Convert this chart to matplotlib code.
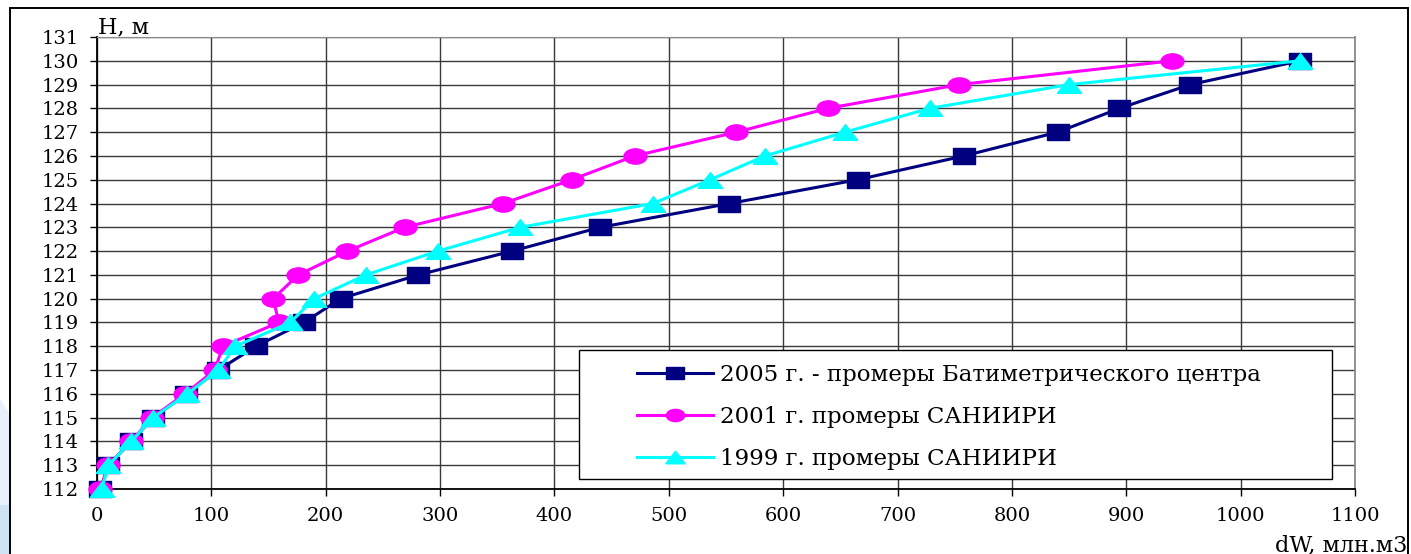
import matplotlib
matplotlib.use("Agg")
import matplotlib.pyplot as plt
from matplotlib.path import Path
from matplotlib.patches import Rectangle, Polygon
from matplotlib.transforms import Affine2D

# data
levels = list(range(112, 131))  # H, m
dw_2005 = [3, 10, 30, 49, 78, 106, 139, 181, 213, 281, 363, 440, 553, 665, 758, 840, 894, 956, 1052]
dw_2001 = [3, 10, 30, 48, 77, 103, 110, 159, 154, 176, 219, 269, 355, 415, 470, 559, 639, 754, 940]
dw_1999 = [4, 10, 30, 49, 79, 106, 121, 169, 190, 235, 298, 370, 486, 536, 584, 654, 728, 850, 1052]

labels = ["2005 г. - промеры Батиметрического центра",
          "2001 г. промеры САНИИРИ",
          "1999 г. промеры САНИИРИ"]
x_ticks = list(range(0, 1101, 100))
y_ticks = list(range(112, 132))

NAVY = "#000080"
MAGENTA = "#FF00FF"
CYAN = "#00FFFF"
FONT = "DejaVu Serif"

# markers in the original are stretched sideways, so build wide ones
sq = Path([(-1.5, -1), (1.5, -1), (1.5, 1), (-1.5, 1), (-1.5, -1)],
          [Path.MOVETO, Path.LINETO, Path.LINETO, Path.LINETO, Path.CLOSEPOLY])
circ = Path.unit_circle().transformed(Affine2D().scale(1.5, 1.0))
tri = Path([(-1.55, -1), (1.55, -1), (0, 1), (-1.55, -1)],
           [Path.MOVETO, Path.LINETO, Path.LINETO, Path.CLOSEPOLY])

W, H = 1411, 554
fig = plt.figure(figsize=(W / 100, H / 100), dpi=100, facecolor="white")

# pale blue slide decoration at the left edge
fig.add_artist(Polygon([(0, 0), (10 / W, 0), (10 / W, 1 - 415 / H), (0, 1 - 398 / H)],
                       closed=True, transform=fig.transFigure, facecolor="#e8f1fb",
                       edgecolor="none", zorder=0))
fig.add_artist(Rectangle((0, 0), 10 / W, 1 - 505 / H, transform=fig.transFigure,
                         facecolor="#cfe2f6", edgecolor="none", zorder=0))
# chart frame
fig.add_artist(Rectangle((10 / W, -0.01), 1398 / W, 1 - 8 / H + 0.01, transform=fig.transFigure,
                         facecolor="none", edgecolor="black", lw=1.4, zorder=1))

ax = fig.add_axes([97 / W, 1 - 489 / H, 1258 / W, 452 / H])
ax.set_facecolor("white")

ax.plot(dw_2005, levels, color=NAVY, lw=2.2, marker=sq, markersize=16.5,
        mec=NAVY, mfc=NAVY, label=labels[0], zorder=3, clip_on=False)
ax.plot(dw_2001, levels, color=MAGENTA, lw=2.2, marker=circ, markersize=16.5,
        mec=MAGENTA, mfc=MAGENTA, label=labels[1], zorder=4, clip_on=False)
ax.plot(dw_1999, levels, color=CYAN, lw=2.2, marker=tri, markersize=17.5,
        mec=CYAN, mfc=CYAN, label=labels[2], zorder=5, clip_on=False)

ax.set_xlim(0, 1100)
ax.set_ylim(112, 131)
ax.set_xticks(x_ticks)
ax.set_yticks(y_ticks)
ax.grid(True, color="#3a3a3a", lw=1.0)
ax.set_axisbelow(True)
ax.tick_params(direction="out", length=5, width=1, colors="black", labelsize=14, pad=8)
for lab in ax.get_xticklabels() + ax.get_yticklabels():
    lab.set_family(FONT)
ax.spines["left"].set_color("black")
ax.spines["bottom"].set_color("black")
ax.spines["left"].set_linewidth(1.3)
ax.spines["bottom"].set_linewidth(1.3)
ax.spines["top"].set_color("#8a8a8a")
ax.spines["right"].set_color("#8a8a8a")
ax.spines["right"].set_linewidth(1.3)

# legend box drawn separately, entries placed inside it
box = Rectangle(((579 - 97) / 1258, (489 - 479) / 452), (1332 - 579) / 1258, (479 - 350) / 452,
                transform=ax.transAxes, facecolor="white", edgecolor="black", lw=1.0, zorder=6)
ax.add_patch(box)
leg = ax.legend(loc="upper left", bbox_to_anchor=((637 - 97) / 1258, (489 - 364) / 452),
                frameon=False, borderpad=0, borderaxespad=0, handlelength=3.3,
                handletextpad=0.3, labelspacing=0.87, markerscale=0.8,
                prop={"family": FONT, "size": 16.5})
leg.set_zorder(7)

fig.text(98 / W, 1 - 33 / H, "H, м", family=FONT, fontsize=16, va="baseline", ha="left")
fig.text(1407 / W, 3 / H, "dW, млн.м3", family=FONT, fontsize=16, va="baseline", ha="right")

fig.savefig("out.png", dpi=100, facecolor="white")
